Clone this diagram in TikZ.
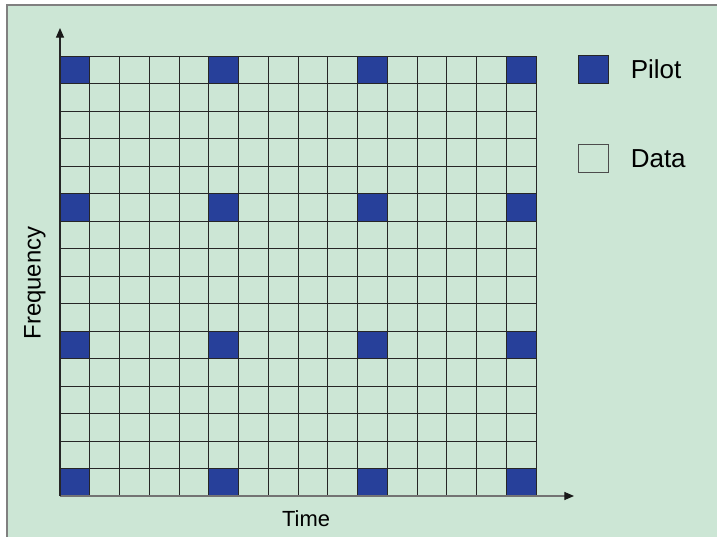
\documentclass[tikz,border=0pt]{standalone}
\usepackage{fontspec}
\setmainfont{Liberation Sans}
\usetikzlibrary{arrows.meta,positioning}
\definecolor{panelgreen}{RGB}{204,230,213}
\definecolor{pilotblue}{RGB}{39,64,154}
\definecolor{framegray}{RGB}{128,128,128}

\begin{document}
\begin{tikzpicture}[>={Triangle[length=0.24cm,width=0.2cm,color=black!90]},
    cell/.style={draw=black!85, line width=0.7pt, minimum width=0.74375cm,
      minimum height=0.6875cm, inner sep=0pt, outer sep=0pt, anchor=south west},
    datacell/.style={cell, fill=panelgreen},
    pilotcell/.style={cell, fill=pilotblue},
    legtext/.style={font=\fontsize{18.5}{22}\selectfont, inner sep=0pt, anchor=west},
    axislabel/.style={font=\fontsize{15.6}{19}\selectfont, inner sep=0pt}]
  %% Background panel with frame on top and left
  \useasboundingbox (-1.5,-1.025) rectangle (16.425,12.4);
  \fill[white] (-1.5,-1.025) rectangle (16.425,12.4);
  \fill[panelgreen] (-1.325,-1.025) rectangle (16.425,12.275);
  \draw[framegray, line width=0.9pt] (-1.325,-1.025) -- (-1.325,12.275) -- (16.425,12.275);

  %% Resource grid: 16 x 16 cells
  \foreach \i in {0,...,15}{
    \foreach \j in {0,...,15}{
      \node[datacell] (c-\i-\j) at (\i*0.74375,\j*0.6875) {};
    }
  }
  %% Pilot cells every 5th column and row
  \foreach \i in {0,5,10,15}{
    \foreach \j in {0,5,10,15}{
      \node[pilotcell] (p-\i-\j) at (\i*0.74375,\j*0.6875) {};
    }
  }

  %% Axes
  \coordinate (origin) at (c-0-0.south west);
  \coordinate (timeend) at (12.85,0);
  \coordinate (freqend) at (0,11.7);
  \draw[->, black!55, line width=0.8pt] (origin) -- (timeend);
  \draw[->, black!85, line width=0.8pt] (origin) -- (freqend);
  \node[axislabel] (timelbl) at (6.15,-0.56) {Time};
  \node[axislabel, rotate=90, font=\fontsize{17}{20}\selectfont] (freqlbl) at (-0.625,5.325) {Frequency};

  %% Legend
  \node[pilotcell, anchor=center] (legpilot) at (13.34,10.66) {};
  \node[datacell, anchor=center, draw=black!70] (legdata) at (13.34,8.44) {};
  \node[legtext, right=0.55cm of legpilot] (pilotlbl) {Pilot};
  \node[legtext, right=0.55cm of legdata] (datalbl) {Data};
\end{tikzpicture}
\end{document}
